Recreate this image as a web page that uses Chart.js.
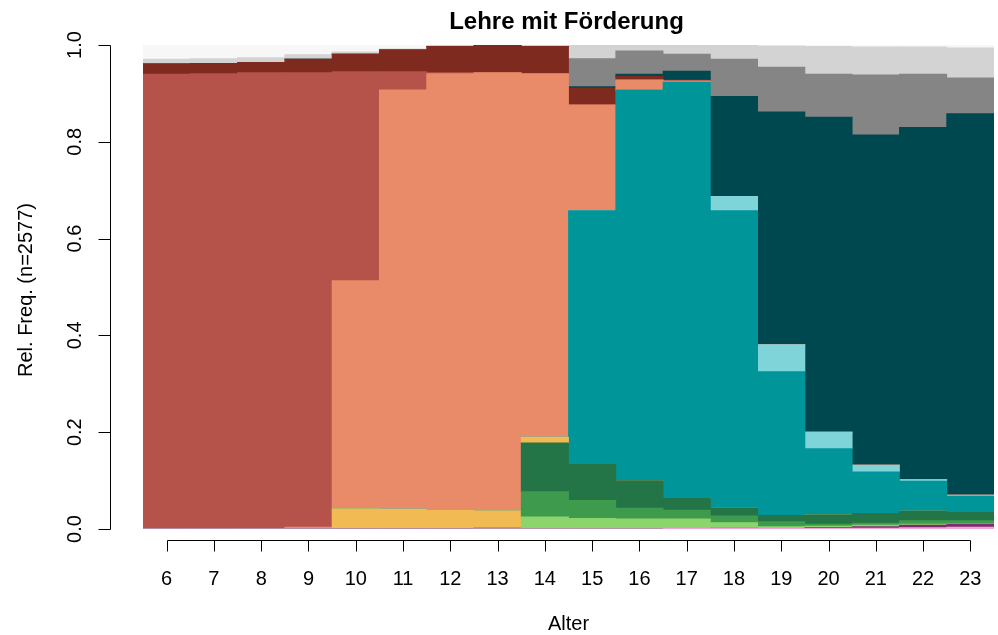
<!DOCTYPE html>
<html>
<head>
<meta charset="utf-8">
<script src="https://cdn.jsdelivr.net/npm/chart.js"></script>
<style>
  body { margin: 0; padding: 0; background: #fff; }
</style>
</head>
<body>
<canvas id="stateChart" width="998" height="635"></canvas>
<script>
// ages on the x axis
const ages = ['6','7','8','9','10','11','12','13','14','15','16','17','18','19','20','21','22','23'];
const yTicks = [0, 0.2, 0.4, 0.6, 0.8, 1.0];

// relative frequencies per state, bottom of the stack first
const pink       = [0,0,0,0,0,0,0,0,0,0,0,0.001,0.002,0.001,0.002,0.002,0.003,0.004];
const magenta    = [0,0,0,0,0,0,0,0,0,0,0,0,0,0,0.0015,0.003,0.005,0.006];
const lightGreen = [0,0,0,0,0,0,0,0.002,0.025,0.022,0.021,0.020,0.011,0.004,0.0025,0.003,0.002,0.001];
const midGreen   = [0,0,0,0,0,0,0,0,0.052,0.037,0.022,0.018,0.014,0.010,0.004,0.004,0.007,0.006];
const darkGreen  = [0,0,0,0,0,0,0,0,0.101,0.076,0.057,0.024,0.016,0.013,0.019,0.020,0.020,0.019];
const yellow     = [0,0,0,0,0.042,0.041,0.039,0.036,0.012,0,0,0,0,0,0,0,0,0];
const teal       = [0,0,0,0,0,0,0,0,0,0.523,0.807,0.860,0.615,0.297,0.137,0.086,0.062,0.032];
const lightTeal  = [0,0,0,0,0,0,0,0,0,0,0,0,0.029,0.056,0.034,0.014,0.003,0.002];
const salmon     = [0,0,0,0.004,0.471,0.866,0.902,0.905,0.751,0.218,0.021,0.003,0,0,0,0,0,0];
const brick      = [0.940,0.941,0.943,0.939,0.432,0.038,0.002,0,0,0,0,0,0,0,0,0,0,0];
const darkRed    = [0.021,0.021,0.021,0.028,0.036,0.045,0.054,0.057,0.056,0.035,0.007,0.002,0,0,0,0,0,0];
const darkTeal   = [0,0,0,0,0,0,0,0,0,0.003,0.005,0.018,0.207,0.481,0.651,0.682,0.728,0.788];
const grey       = [0,0,0,0,0,0,0,0,0,0.058,0.048,0.035,0.077,0.092,0.089,0.124,0.110,0.074];
const lightGrey  = [0.010,0.010,0.010,0.009,0.005,0.002,0.002,0,0.003,0.028,0.012,0.019,0.028,0.044,0.057,0.058,0.056,0.062];
const paleGrey   = [0.029,0.028,0.026,0.020,0.014,0.008,0.001,0,0,0,0,0,0.001,0.002,0.003,0.004,0.004,0.006];

const stateSeries = [pink, magenta, lightGreen, midGreen, darkGreen, yellow, teal, lightTeal,
                     salmon, brick, darkRed, darkTeal, grey, lightGrey, paleGrey];
const stateColors = ['#F0A3DE', '#7E2C6D', '#8CD56C', '#3E9B4D', '#237447', '#F2BA52', '#009599', '#7FD4DA',
                     '#E98B69', '#B5534A', '#7F2A1E', '#00484F', '#858585', '#D3D3D3', '#F7F7F7'];

const FONT = "'Liberation Sans', Arial, sans-serif";

// R-style detached axes, titles
const baseAxes = {
  id: 'baseAxes',
  afterDraw(chart) {
    const ctx = chart.ctx;
    const x = chart.scales.x, y = chart.scales.y;
    ctx.save();
    ctx.strokeStyle = '#000';
    ctx.fillStyle = '#000';
    ctx.lineWidth = 1;

    // y axis
    const yAxisX = 110.5;
    ctx.beginPath();
    ctx.moveTo(yAxisX, Math.round(y.getPixelForValue(1)) + 0.5);
    ctx.lineTo(yAxisX, Math.round(y.getPixelForValue(0)) + 0.5);
    yTicks.forEach(v => {
      const py = Math.round(y.getPixelForValue(v)) + 0.5;
      ctx.moveTo(yAxisX, py);
      ctx.lineTo(yAxisX - 12, py);
    });
    ctx.stroke();

    ctx.font = '20px ' + FONT;
    ctx.textAlign = 'center';
    ctx.textBaseline = 'alphabetic';
    yTicks.forEach(v => {
      ctx.save();
      ctx.translate(81, y.getPixelForValue(v));
      ctx.rotate(-Math.PI / 2);
      ctx.fillText(v.toFixed(1), 0, 0);
      ctx.restore();
    });

    // x axis
    const xAxisY = 540.5;
    const first = Math.round(x.getPixelForValue(0)) + 0.5;
    const last = Math.round(x.getPixelForValue(ages.length - 1)) + 0.5;
    ctx.beginPath();
    ctx.moveTo(first, xAxisY);
    ctx.lineTo(last, xAxisY);
    ages.forEach((a, i) => {
      const px = Math.round(x.getPixelForValue(i)) + 0.5;
      ctx.moveTo(px, xAxisY);
      ctx.lineTo(px, xAxisY + 11);
    });
    ctx.stroke();
    ages.forEach((a, i) => {
      ctx.fillText(a, x.getPixelForValue(i), 585);
    });

    // axis titles
    const midX = (chart.chartArea.left + chart.chartArea.right) / 2;
    ctx.fillText('Alter', midX, 630);
    ctx.save();
    ctx.translate(32, 290);
    ctx.rotate(-Math.PI / 2);
    ctx.fillText('Rel. Freq. (n=2577)', 0, 0);
    ctx.restore();

    // main title
    ctx.font = 'bold 24px ' + FONT;
    ctx.fillText('Lehre mit Förderung', midX - 2, 29);
    ctx.restore();
  }
};

new Chart(document.getElementById('stateChart').getContext('2d'), {
  type: 'bar',
  data: {
    labels: ages,
    datasets: stateSeries.map((vals, i) => ({
      data: vals,
      backgroundColor: stateColors[i],
      borderWidth: 0,
      barPercentage: 1,
      categoryPercentage: 1,
      inflateAmount: 0.4
    }))
  },
  options: {
    responsive: false,
    animation: false,
    layout: { padding: { left: 143, right: 4, top: 45, bottom: 106 } },
    scales: {
      x: { stacked: true, display: false },
      y: { stacked: true, display: false, min: 0, max: 1 }
    },
    plugins: {
      legend: { display: false },
      tooltip: { enabled: false },
      title: { display: false }
    }
  },
  plugins: [baseAxes]
});
</script>
</body>
</html>
